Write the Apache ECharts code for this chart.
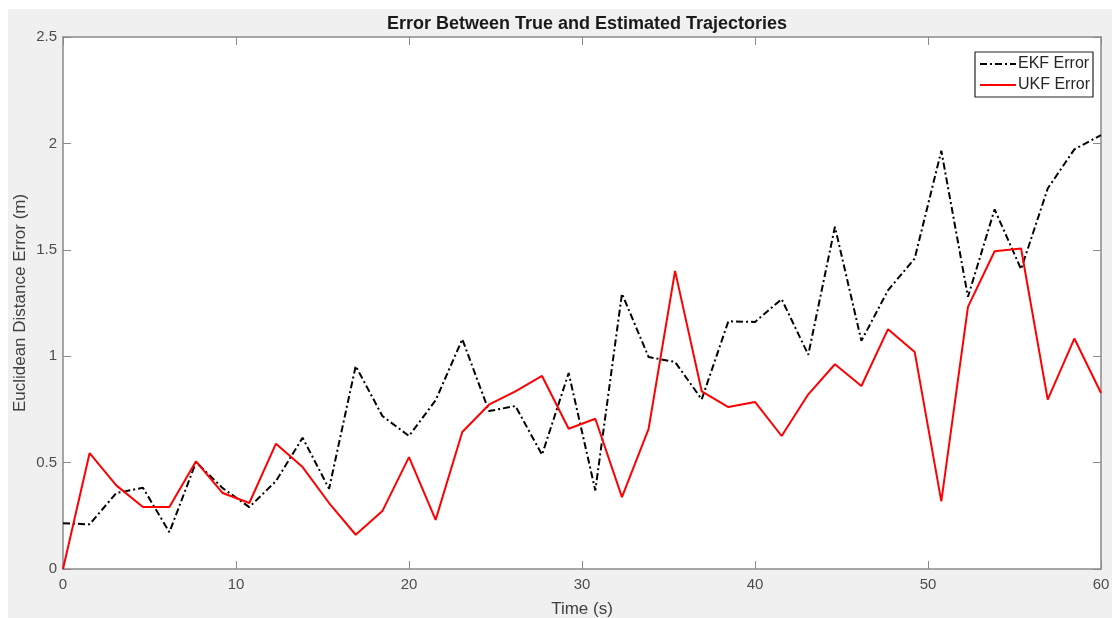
<!DOCTYPE html>
<html>
<head>
<meta charset="utf-8">
<script src="https://cdn.jsdelivr.net/npm/echarts@6/dist/echarts.min.js"></script>
<style>
  html, body { margin: 0; padding: 0; background: #ffffff; }
  #chart { position: absolute; left: 8px; top: 9px; width: 1104px; height: 609px; }
</style>
</head>
<body>
<div id="chart"></div>
<script>
// Time samples (s)
const times = [0, 1.54, 3.08, 4.62, 6.15, 7.69, 9.23, 10.77, 12.31, 13.85,
  15.38, 16.92, 18.46, 20, 21.54, 23.08, 24.62, 26.15, 27.69, 29.23,
  30.77, 32.31, 33.85, 35.38, 36.92, 38.46, 40, 41.54, 43.08, 44.62,
  46.15, 47.69, 49.23, 50.77, 52.31, 53.85, 55.38, 56.92, 58.46, 60];

const ekfError = [0.215, 0.21, 0.357, 0.382, 0.173, 0.502, 0.38, 0.291, 0.413, 0.617,
  0.377, 0.954, 0.719, 0.625, 0.793, 1.08, 0.742, 0.766, 0.537, 0.921,
  0.369, 1.294, 0.996, 0.973, 0.797, 1.164, 1.161, 1.268, 1.007, 1.608,
  1.072, 1.31, 1.459, 1.965, 1.279, 1.69, 1.409, 1.788, 1.972, 2.039];

const ukfError = [0, 0.545, 0.393, 0.291, 0.291, 0.506, 0.357, 0.31, 0.589, 0.479,
  0.31, 0.161, 0.272, 0.526, 0.231, 0.644, 0.772, 0.835, 0.907, 0.659,
  0.706, 0.338, 0.659, 1.401, 0.835, 0.761, 0.785, 0.625, 0.821, 0.962,
  0.86, 1.127, 1.02, 0.318, 1.232, 1.493, 1.506, 0.796, 1.083, 0.827];

const seriesNames = ['EKF Error', 'UKF Error'];
const titleText = 'Error Between True and Estimated Trajectories';
const xLabel = 'Time (s)';
const yLabel = 'Euclidean Distance Error (m)';

const FONT = '"Liberation Sans", Arial, Helvetica, sans-serif';
const AXIS_COLOR = '#8a8a8a';
const LABEL_COLOR = '#4d4d4d';

const chart = echarts.init(document.getElementById('chart'), null, { renderer: 'canvas' });

const pairs = (ys) => times.map((t, i) => [t, ys[i]]);

const baseAxisLine = { show: true, onZero: false, lineStyle: { color: AXIS_COLOR, width: 1.5 } };
const baseTick = { show: true, inside: true, length: 8, lineStyle: { color: AXIS_COLOR, width: 1 } };

const option = {
  backgroundColor: '#f0f0f0',
  animation: false,
  textStyle: { fontFamily: FONT },
  title: {
    text: titleText,
    left: 574,
    top: 1,
    textAlign: 'center',
    textStyle: { fontFamily: FONT, fontSize: 18, fontWeight: 'bold', color: '#1a1a1a' }
  },
  grid: {
    left: 55, right: 11, top: 28, bottom: 49,
    show: true, backgroundColor: '#ffffff', borderWidth: 0,
    containLabel: false,
    outerBoundsMode: 'none'
  },
  legend: {
    data: seriesNames,
    orient: 'vertical',
    right: 19,
    top: 43,
    backgroundColor: '#ffffff',
    borderColor: '#262626',
    borderWidth: 1.2,
    borderRadius: 0,
    padding: [4, 3, 4, 4],
    itemWidth: 36,
    itemHeight: 14,
    itemGap: 5,
    itemStyle: { opacity: 0 },
    textStyle: { fontFamily: FONT, fontSize: 16, color: '#262626', padding: [0, 0, 0, -3] }
  },
  xAxis: [
    {
      type: 'value', min: 0, max: 60, interval: 10,
      name: xLabel, nameLocation: 'middle', nameGap: 32, nameMoveOverlap: false,
      nameTextStyle: { fontFamily: FONT, fontSize: 17, color: '#404040' },
      axisLine: baseAxisLine, axisTick: baseTick,
      axisLabel: { fontFamily: FONT, fontSize: 15, color: LABEL_COLOR, margin: 8 },
      splitLine: { show: false }
    },
    {
      type: 'value', min: 0, max: 60, interval: 10, position: 'top',
      axisLine: baseAxisLine, axisTick: baseTick,
      axisLabel: { show: false }, splitLine: { show: false }
    }
  ],
  yAxis: [
    {
      type: 'value', min: 0, max: 2.5, interval: 0.5,
      name: yLabel, nameLocation: 'middle', nameGap: 34, nameMoveOverlap: false,
      nameTextStyle: { fontFamily: FONT, fontSize: 17, color: '#404040' },
      axisLine: baseAxisLine, axisTick: baseTick,
      axisLabel: { fontFamily: FONT, fontSize: 15, color: LABEL_COLOR, margin: 6 },
      splitLine: { show: false }
    },
    {
      type: 'value', min: 0, max: 2.5, interval: 0.5, position: 'right',
      axisLine: baseAxisLine, axisTick: baseTick,
      axisLabel: { show: false }, splitLine: { show: false }
    }
  ],
  series: [
    {
      name: seriesNames[0], type: 'line', data: pairs(ekfError),
      symbol: 'none', showSymbol: false,
      lineStyle: { color: '#000000', width: 2, type: [7, 3, 2, 3] },
      itemStyle: { color: '#000000' }
    },
    {
      name: seriesNames[1], type: 'line', data: pairs(ukfError),
      symbol: 'none', showSymbol: false,
      lineStyle: { color: '#ff0000', width: 2 },
      itemStyle: { color: '#ff0000' }
    }
  ]
};

chart.setOption(option);
</script>
</body>
</html>
